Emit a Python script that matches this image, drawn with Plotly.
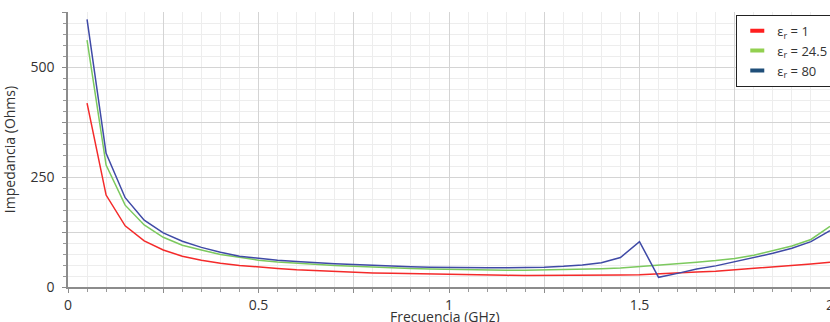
import plotly.graph_objects as go

freq = [round(0.05 * i, 2) for i in range(1, 41)]

z_er1 = [418, 209, 139, 105, 84, 70, 61, 54, 49, 45,
         42, 39, 37, 35, 33.5, 32, 31, 30, 29, 28,
         27.5, 27, 26.5, 26, 26, 26, 26.5, 27, 27, 28,
         29.5, 31, 34, 36, 39, 42, 45, 48, 52, 56]
z_er24 = [561, 277, 186, 141, 113, 95, 84, 74, 67.5, 61,
          57, 54, 51, 49, 47, 45, 43.5, 42, 41, 40,
          39, 38.5, 38, 38, 38.5, 39, 40, 41.5, 43, 46,
          48.5, 52, 56, 60, 65, 72, 82, 93, 108, 138]
z_er80 = [608, 304, 203, 152, 123, 104, 90, 79, 70, 65,
          61, 58, 55, 53, 51, 49, 47.5, 46, 45, 44,
          44, 43.5, 43.5, 44, 45, 47, 50, 55, 67, 103,
          22, 31, 41, 48, 57.5, 67.5, 76.5, 88, 103, 128]

names = ["ε<sub>r</sub> = 1", "ε<sub>r</sub> = 24.5", "ε<sub>r</sub> = 80"]
line_colors = ["#f42a2a", "#7cc95e", "#3f4aa6"]
legend_colors = ["#ff1f1f", "#92d050", "#1f4e79"]
series = [z_er1, z_er24, z_er80]

fig = go.Figure()
for ys, c in zip(series, line_colors):
    fig.add_trace(go.Scatter(x=freq, y=ys, mode="lines",
                             line=dict(color=c, width=1.5), showlegend=False,
                             hoverinfo="skip"))
for n, c in zip(names, legend_colors):
    fig.add_trace(go.Scatter(x=[None], y=[None], mode="markers", name=n,
                             marker=dict(symbol="line-ew", size=10, color=c,
                                         line=dict(width=4, color=c))))

font = "Open Sans, Noto Sans, sans-serif"
x_ticks = [0, 0.25, 0.5, 0.75, 1, 1.25, 1.5, 1.75, 2]
x_text = ["0", "", "0.5", "", "1", "", "1.5", "", "2"]
y_ticks = [0, 125, 250, 375, 500, 625]
y_text = ["0", "", "250", "", "500", ""]

fig.update_layout(
    width=830, height=322,
    margin=dict(l=68, r=0, t=12, b=35, autoexpand=False),
    paper_bgcolor="white", plot_bgcolor="white",
    font=dict(family=font, size=14, color="#333333"),
    xaxis=dict(range=[0, 2], tickvals=x_ticks, ticktext=x_text,
               showgrid=True, gridcolor="#d4d4d4", gridwidth=1,
               showline=True, linecolor="#8c8c8c", linewidth=1.5,
               ticks="outside", ticklen=4, tickcolor="#8c8c8c",
               zeroline=False, ticklabeloverflow="allow",
               minor=dict(dtick=0.05, showgrid=True, gridcolor="#ededed",
                          ticks="outside", ticklen=3, tickcolor="#9a9a9a"),
               automargin=False),
    yaxis=dict(range=[0, 625], tickvals=y_ticks, ticktext=y_text,
               showgrid=True, gridcolor="#d4d4d4", gridwidth=1,
               showline=True, linecolor="#8c8c8c", linewidth=1.5,
               ticks="outside", ticklen=4, tickcolor="#8c8c8c",
               zeroline=False, ticklabelstandoff=5,
               minor=dict(dtick=25, showgrid=True, gridcolor="#ededed",
                          ticks="outside", ticklen=3, tickcolor="#9a9a9a"),
               title=dict(text="Impedancia (Ohms)", standoff=12,
                          font=dict(size=14)),
               automargin=False),
    legend=dict(x=0.877, y=0.99, xanchor="left", yanchor="top",
                bgcolor="white", bordercolor="#222222", borderwidth=1,
                font=dict(size=13, color="#333333"),
                itemwidth=30, tracegroupgap=0),
    annotations=[dict(text="Frecuencia (GHz)", xref="paper", yref="paper",
                      x=0.495, y=-0.108, xanchor="center", yanchor="middle",
                      showarrow=False, font=dict(size=14, color="#333333"))],
)

fig.write_html("out.html")
